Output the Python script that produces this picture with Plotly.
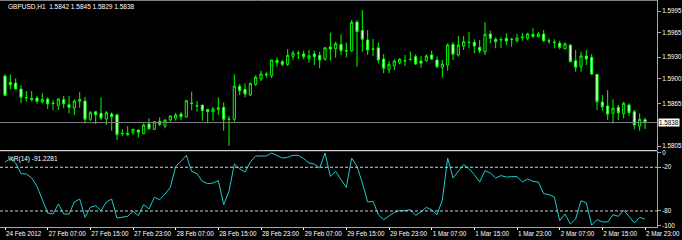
import plotly.graph_objects as go

# ---- data (GBPUSD H1) ----
opens = [1.59035,1.58946,1.58937,1.58852,1.58735,1.58720,1.58725,1.58669,1.58711,1.58655,
         1.58623,1.58702,1.58631,1.58585,1.58679,1.58683,1.58426,1.58533,1.58510,1.58430,
         1.58500,1.58490,1.58229,1.58209,1.58237,1.58275,1.58223,1.58360,1.58285,1.58398,
         1.58331,1.58416,1.58440,1.58500,1.58458,1.58653,1.58619,1.58627,1.58566,1.58533,
         1.58566,1.58595,1.58430,1.58426,1.58890,1.58848,1.58768,1.58918,1.58993,1.59061,
         1.59039,1.59256,1.59236,1.59200,1.59312,1.59357,1.59345,1.59284,1.59345,1.59326,
         1.59274,1.59443,1.59419,1.59481,1.59393,1.59391,1.59795,1.59676,1.59542,1.59417,
         1.59433,1.59274,1.59129,1.59180,1.59222,1.59252,1.59272,1.59307,1.59246,1.59250,
         1.59331,1.59260,1.59158,1.59190,1.59481,1.59331,1.59457,1.59511,1.59509,1.59439,
         1.59377,1.59626,1.59552,1.59548,1.59566,1.59554,1.59532,1.59582,1.59566,1.59622,
         1.59588,1.59626,1.59530,1.59511,1.59495,1.59419,1.59471,1.59250,1.59166,1.59317,
         1.59298,1.59059,1.58669,1.58613,1.58510,1.58595,1.58510,1.58627,1.58533,1.58331,
         1.58420]
highs = [1.59060,1.59059,1.59003,1.58908,1.58824,1.58824,1.58754,1.58792,1.58735,1.58697,
         1.58725,1.58754,1.58754,1.58707,1.58810,1.58740,1.58542,1.58535,1.58735,1.58542,
         1.58523,1.58493,1.58285,1.58331,1.58287,1.58277,1.58369,1.58440,1.58402,1.58454,
         1.58426,1.58482,1.58519,1.58533,1.58697,1.58814,1.58683,1.58629,1.58568,1.58603,
         1.58735,1.58665,1.58472,1.59059,1.58923,1.58932,1.58941,1.59045,1.59110,1.59096,
         1.59262,1.59298,1.59260,1.59415,1.59391,1.59391,1.59391,1.59401,1.59391,1.59377,
         1.59439,1.59645,1.59518,1.59622,1.59504,1.59823,1.59823,1.59964,1.59683,1.59556,
         1.59504,1.59345,1.59246,1.59270,1.59284,1.59331,1.59377,1.59341,1.59317,1.59341,
         1.59391,1.59307,1.59260,1.59495,1.59514,1.59598,1.59598,1.59654,1.59552,1.59542,
         1.59795,1.59673,1.59580,1.59580,1.59636,1.59574,1.59626,1.59645,1.59645,1.59707,
         1.59654,1.59683,1.59566,1.59552,1.59532,1.59509,1.59481,1.59401,1.59377,1.59401,
         1.59341,1.59060,1.58768,1.58838,1.58707,1.58629,1.58673,1.58651,1.58557,1.58510,
         1.58450]
lows = [1.58754,1.58848,1.58848,1.58651,1.58679,1.58679,1.58645,1.58651,1.58571,1.58557,
        1.58557,1.58581,1.58510,1.58486,1.58589,1.58369,1.58402,1.58360,1.58416,1.58345,
        1.58265,1.58134,1.58191,1.58195,1.58205,1.58167,1.58220,1.58275,1.58275,1.58331,
        1.58299,1.58392,1.58406,1.58416,1.58448,1.58557,1.58533,1.58406,1.58369,1.58406,
        1.58486,1.58265,1.58054,1.58392,1.58768,1.58735,1.58754,1.58894,1.58965,1.59011,
        1.59003,1.59166,1.59176,1.59176,1.59260,1.59274,1.59270,1.59222,1.59190,1.59144,
        1.59250,1.59250,1.59293,1.59331,1.59298,1.59377,1.59166,1.59377,1.59331,1.59317,
        1.59214,1.59073,1.59073,1.59120,1.59200,1.59176,1.59250,1.59190,1.59152,1.59236,
        1.59260,1.59144,1.59011,1.59110,1.59260,1.59307,1.59401,1.59425,1.59355,1.59355,
        1.59331,1.59495,1.59425,1.59429,1.59471,1.59448,1.59504,1.59532,1.59542,1.59570,
        1.59580,1.59518,1.59486,1.59425,1.59411,1.59411,1.59228,1.59096,1.59096,1.59190,
        1.59049,1.58557,1.58547,1.58416,1.58369,1.58416,1.58440,1.58472,1.58285,1.58265,
        1.58290]
closes = [1.58763,1.58913,1.58852,1.58735,1.58730,1.58707,1.58679,1.58707,1.58645,1.58650,
          1.58711,1.58645,1.58595,1.58683,1.58707,1.58426,1.58519,1.58490,1.58444,1.58519,
          1.58462,1.58209,1.58225,1.58229,1.58285,1.58243,1.58345,1.58293,1.58392,1.58355,
          1.58416,1.58472,1.58486,1.58462,1.58687,1.58649,1.58615,1.58547,1.58533,1.58571,
          1.58589,1.58426,1.58425,1.58894,1.58828,1.58782,1.58932,1.59017,1.59063,1.59055,
          1.59260,1.59222,1.59200,1.59326,1.59359,1.59353,1.59307,1.59321,1.59307,1.59260,
          1.59433,1.59415,1.59490,1.59391,1.59389,1.59791,1.59659,1.59552,1.59401,1.59413,
          1.59260,1.59144,1.59200,1.59246,1.59270,1.59248,1.59268,1.59204,1.59214,1.59317,
          1.59274,1.59166,1.59204,1.59471,1.59341,1.59471,1.59518,1.59507,1.59457,1.59391,
          1.59622,1.59566,1.59518,1.59544,1.59528,1.59550,1.59570,1.59578,1.59626,1.59594,
          1.59626,1.59532,1.59526,1.59507,1.59439,1.59486,1.59236,1.59158,1.59317,1.59274,
          1.59063,1.58673,1.58603,1.58500,1.58581,1.58519,1.58651,1.58519,1.58345,1.58426,
          1.58380]

wpr = [-12.8,-8.2,-14.1,-28.8,-29.2,-34.7,-46.2,-64.5,-82.8,-84.2,
       -70.4,-84.2,-84.2,-67.7,-63.6,-88.7,-75.0,-72.7,-79.6,-67.7,
       -63.6,-89.7,-88.3,-87.4,-80.5,-86.4,-71.3,-77.3,-61.3,-64.5,
       -56.7,-47.6,-18.7,-11.9,-3.6,-25.6,-28.8,-39.3,-42.5,-41.6,
       -38.4,-71.4,-53.0,-15.5,-21.9,-26.5,-12.8,-4.5,-4.5,-4.5,
       -0.5,-3.6,-7.3,-6.4,-3.6,-3.6,-8.2,-14.1,-15.5,-21.0,
       -0.5,-32.4,-25.6,-37.0,-47.6,-7.3,-18.7,-41.6,-67.7,-66.8,
       -85.1,-91.9,-87.4,-81.9,-79.6,-79.6,-78.2,-86.0,-81.4,-75.0,
       -78.6,-85.1,-65.0,-7.3,-34.7,-25.6,-16.4,-21.9,-30.2,-40.2,
       -24.7,-27.9,-34.7,-31.5,-33.4,-32.9,-32.9,-40.2,-36.1,-39.3,
       -40.2,-56.2,-57.6,-60.8,-93.3,-84.2,-97.9,-91.0,-65.9,-69.1,
       -99.5,-91.9,-95.1,-95.1,-85.1,-87.4,-79.1,-87.4,-96.5,-88.7,
       -91.2281]

tick_pos = [0, 8, 16, 24, 32, 40, 48, 56, 64, 72, 80, 88, 96, 104, 112, 120]
tick_labels = ["24 Feb 2012", "27 Feb 07:00", "27 Feb 15:00", "27 Feb 23:00",
               "28 Feb 07:00", "28 Feb 15:00", "28 Feb 23:00", "29 Feb 07:00",
               "29 Feb 15:00", "29 Feb 23:00", "1 Mar 07:00", "1 Mar 15:00",
               "1 Mar 23:00", "2 Mar 07:00", "2 Mar 15:00", "2 Mar 23:00"]
price_ticks = [1.5995, 1.5965, 1.5930, 1.5900, 1.5865, 1.5805]
wpr_ticks = [0, -20, -80, -100]
wpr_levels = [-20, -80]
symbol = "GBPUSD,H1"
wpr_period = 14

# ---- figure ----
x = list(range(len(opens)))
FONT = "Liberation Sans, Arial, sans-serif"
LIME = "#00FF00"
AXC = "#A8A8A8"

fig = go.Figure()
fig.add_trace(go.Candlestick(
    x=x, open=opens, high=highs, low=lows, close=closes,
    xaxis="x", yaxis="y",
    increasing=dict(line=dict(color=LIME, width=1), fillcolor="#000000"),
    decreasing=dict(line=dict(color=LIME, width=1), fillcolor="#FFFFFF"),
    whiskerwidth=0, showlegend=False, hoverinfo="skip"))
fig.add_trace(go.Scatter(
    x=x, y=wpr, xaxis="x2", yaxis="y2", mode="lines",
    line=dict(color="#19CED0", width=1), showlegend=False, hoverinfo="skip"))

H = 227.0
top_bottom = (H - 150) / H
bot_top = (H - 151) / H
xr = [-0.94, 122.25]

fig.update_layout(
    width=682, height=240,
    margin=dict(l=0, r=25, t=0, b=13, autoexpand=False),
    paper_bgcolor="#000000", plot_bgcolor="#000000",
    font=dict(family=FONT, size=6.3, color="#FFFFFF"),
    boxgap=0.42,
    xaxis=dict(domain=[0, 1], range=xr, anchor="y", matches="x2",
               showticklabels=False, showgrid=False, zeroline=False,
               rangeslider=dict(visible=False), ticks="", automargin=False),
    xaxis2=dict(domain=[0, 1], range=xr, anchor="y2", showgrid=False, zeroline=False,
                tickmode="array", tickvals=tick_pos, ticktext=tick_labels,
                ticks="outside", ticklen=2, tickcolor="#FFFFFF", tickangle=0,
                ticklabelposition="outside right", automargin=False,
                showline=True, linecolor=AXC, linewidth=1,
                tickfont=dict(family=FONT, size=6.3, color="#FFFFFF")),
    yaxis=dict(domain=[top_bottom, 1], range=[1.57994, 1.60105], side="right",
               anchor="x", showgrid=False, zeroline=False, automargin=False,
               tickmode="array", tickvals=price_ticks,
               ticktext=[f"{v:.4f}" for v in price_ticks],
               ticks="outside", ticklen=3, tickcolor=AXC,
               showline=True, linecolor=AXC, linewidth=1,
               tickfont=dict(family=FONT, size=6.3, color="#FFFFFF")),
    yaxis2=dict(domain=[0, bot_top], range=[-102.0, 2.33], side="right",
                anchor="x2", showgrid=False, zeroline=False, automargin=False,
                tickmode="array", tickvals=wpr_ticks,
                ticktext=[str(v) for v in wpr_ticks],
                ticks="outside", ticklen=3, tickcolor=AXC,
                showline=True, linecolor=AXC, linewidth=1,
                tickfont=dict(family=FONT, size=6.3, color="#FFFFFF")),
)

shapes = []
# bid line
shapes.append(dict(type="line", xref="paper", x0=0, x1=1, yref="y",
                   y0=closes[-1], y1=closes[-1], line=dict(color="#808080", width=1)))
# level lines
for lv in wpr_levels:
    shapes.append(dict(type="line", xref="paper", x0=0, x1=1, yref="y2",
                       y0=lv, y1=lv, line=dict(color="#D0D0D0", width=1, dash="3px,2px")))
# pane separator and top border
shapes.append(dict(type="line", xref="paper", x0=0, x1=1, yref="paper",
                   y0=(H - 150.7) / H, y1=(H - 150.7) / H, line=dict(color="#FFFFFF", width=1)))
shapes.append(dict(type="line", xref="paper", x0=0, x1=1, yref="paper",
                   y0=1 - 0.5 / H, y1=1 - 0.5 / H, line=dict(color="#808080", width=1)))
fig.update_layout(shapes=shapes)

fig.add_annotation(xref="paper", yref="paper", x=0.009, y=1, xanchor="left", yanchor="top",
                   yshift=-1, showarrow=False,
                   text=f"{symbol}\u00a0\u00a0{opens[-1]:.4f} {highs[-1]:.4f} {lows[-1]:.4f} {closes[-1]:.4f}",
                   font=dict(family=FONT, size=6.5, color="#FFFFFF"))
fig.add_annotation(xref="paper", yref="paper", x=0.009, y=bot_top, xanchor="left", yanchor="top",
                   yshift=-2, showarrow=False,
                   text=f"%R({wpr_period}) {wpr[-1]:.4f}",
                   font=dict(family=FONT, size=6.5, color="#FFFFFF"))
fig.add_annotation(xref="paper", yref="y", x=1, y=closes[-1], xanchor="left", yanchor="middle",
                   xshift=1, showarrow=False, text=f"{closes[-1]:.4f}", bgcolor="#FFFFFF",
                   borderpad=0, font=dict(family=FONT, size=6.3, color="#000000"))

fig.write_html("out.html")
